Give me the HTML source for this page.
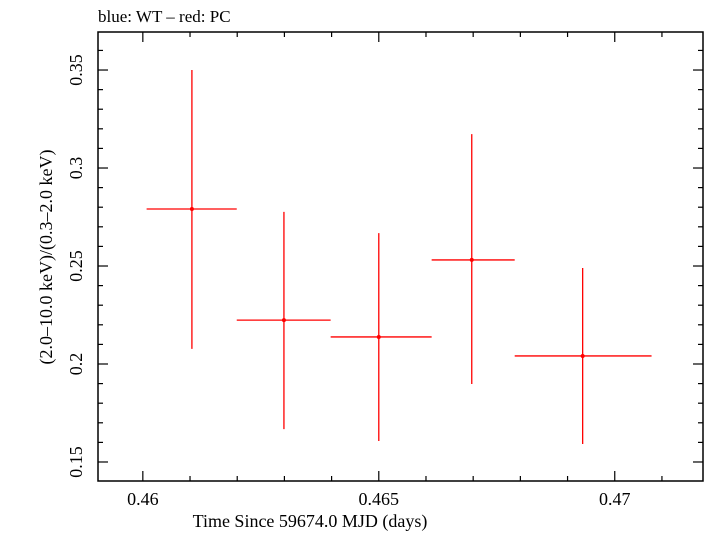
<!DOCTYPE html>
<html><head><meta charset="utf-8"><style>
body{margin:0;background:#fff;}
svg text{font-family:"Liberation Serif",serif;fill:#000;}
</style></head><body>
<svg id="chart" width="705" height="532">
<text x="98" y="22" font-size="17">blue: WT – red: PC</text>
<rect x="98" y="32" width="605" height="449" fill="none" stroke="#000" stroke-width="1.5"/>
<g id="axes"></g>
<g id="marks"></g>
<text x="310" y="527" font-size="18" text-anchor="middle">Time Since 59674.0 MJD (days)</text>
<text transform="translate(52,257) rotate(-90)" font-size="18" text-anchor="middle">(2.0–10.0 keV)/(0.3–2.0 keV)</text>
</svg>
<script>
const xCenters=[0.46104,0.46299,0.46500,0.46697,0.46932];
const xLow=[0.46008,0.46199,0.46398,0.46612,0.46788];
const xHigh=[0.46199,0.46398,0.46612,0.46788,0.47078];
const yValues=[0.2791,0.2224,0.2138,0.2531,0.2041];
const yLow=[0.2077,0.1668,0.1607,0.1898,0.1592];
const yHigh=[0.3500,0.2776,0.2668,0.3173,0.2490];
const xTicks=[0.46,0.465,0.47];
const xTickLabels=["0.46","0.465","0.47"];
const yTicks=[0.15,0.2,0.25,0.3,0.35];
const yTickLabels=["0.15","0.2","0.25","0.3","0.35"];
const L=98,R=703,T=32,B=481,x0=0.45905,x1=0.47187,y0=0.1403,y1=0.3694;
const X=v=>L+(v-x0)/(x1-x0)*(R-L);
const Y=v=>B-(v-y0)/(y1-y0)*(B-T);
const NS="http://www.w3.org/2000/svg";
function mk(t,a,p){const e=document.createElementNS(NS,t);for(const k in a)e.setAttribute(k,a[k]);p.appendChild(e);return e;}
const ax=document.getElementById('axes'),mg=document.getElementById('marks');
for(let i=0;i<=12;i++){const v=0.459+i*0.001;if(v<x0||v>x1)continue;const maj=Math.abs((v*1000)%5)<1e-6||Math.abs((v*1000)%5-5)<1e-6;const len=maj?10:5;const px=X(v);
const a=mk('line',{x1:px,x2:px,y1:B,y2:B-len,stroke:'#000','stroke-width':1.2},ax);

const b=mk('line',{x1:px,x2:px,y1:T,y2:T+len,stroke:'#000','stroke-width':1.2},ax);
}
for(let i=15;i<=36;i++){const v=i/100;const maj=i%5===0;const len=maj?10:5;const py=Y(v);
const a=mk('line',{x1:L,x2:L+len,y1:py,y2:py,stroke:'#000','stroke-width':1.2},ax);

const b=mk('line',{x1:R,x2:R-len,y1:py,y2:py,stroke:'#000','stroke-width':1.2},ax);
}
xTicks.forEach((v,i)=>{const t=mk('text',{x:X(v),y:505,'font-size':18,'text-anchor':'middle'},ax);t.textContent=xTickLabels[i];
});
yTicks.forEach((v,i)=>{const t=mk('text',{transform:`translate(82,${Y(v)}) rotate(-90)`,'font-size':18,'text-anchor':'middle'},ax);t.textContent=yTickLabels[i];
});
xCenters.forEach((c,i)=>{
const h=mk('line',{x1:X(xLow[i]),x2:X(xHigh[i]),y1:Y(yValues[i]),y2:Y(yValues[i]),stroke:'#f00','stroke-width':1.3},mg);

const v=mk('line',{x1:X(c),x2:X(c),y1:Y(yLow[i]),y2:Y(yHigh[i]),stroke:'#f00','stroke-width':1.3},mg);

const p=mk('circle',{cx:X(c),cy:Y(yValues[i]),r:2,fill:'#f00'},mg);
});
</script>
</body></html>
